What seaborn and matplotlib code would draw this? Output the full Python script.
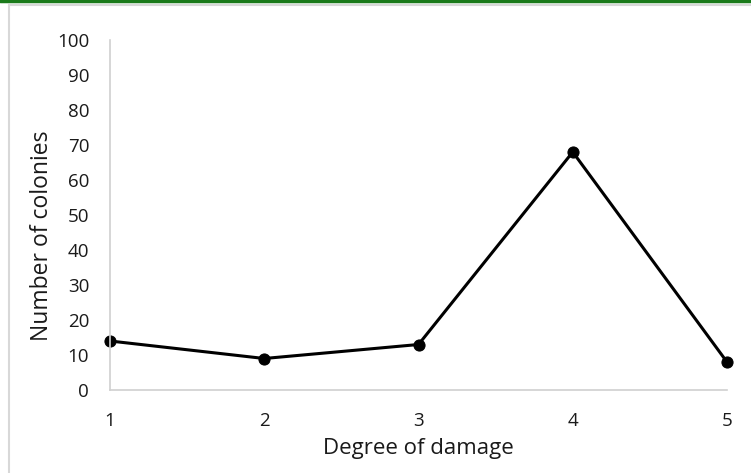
import matplotlib
matplotlib.use("Agg")
import matplotlib.pyplot as plt
from matplotlib.lines import Line2D
import seaborn as sns
import pandas as pd

# data
degree = [1, 2, 3, 4, 5]
colonies = [14, 9, 13, 68, 8]
y_ticks = list(range(0, 101, 10))

df = pd.DataFrame({"Degree of damage": degree, "Number of colonies": colonies})

sns.set_theme(style="white")
plt.rcParams['font.family'] = ['Open Sans', 'DejaVu Sans']

fig = plt.figure(figsize=(7.51, 4.73), dpi=100)
ax = fig.add_axes([110 / 751, 83 / 473, 617 / 751, 350 / 473])

sns.lineplot(data=df, x="Degree of damage", y="Number of colonies", ax=ax,
             color="black", linewidth=2.2, marker="o", markersize=8,
             markeredgecolor="black", clip_on=False)

ax.set_xlim(1, 5)
ax.set_ylim(0, 100)
ax.set_xticks(degree)
ax.set_yticks(y_ticks)
ax.tick_params(axis="both", length=0, labelsize=13.5, colors="#1a1a1a")
ax.tick_params(axis="x", pad=16)
ax.tick_params(axis="y", pad=15)
ax.set_xlabel("Degree of damage", fontsize=16, color="#1a1a1a")
ax.set_ylabel("Number of colonies", fontsize=16.5, color="#1a1a1a")
ax.xaxis.set_label_coords(0.5, -48 / 350)
ax.yaxis.set_label_coords(-56 / 617, 0.44)

for side in ["top", "right"]:
    ax.spines[side].set_visible(False)
for side in ["left", "bottom"]:
    ax.spines[side].set_color("#d0d0d0")
    ax.spines[side].set_linewidth(1.2)

# frame decorations of the screenshot
fig.add_artist(Line2D([0, 1], [1 - 1.5 / 473, 1 - 1.5 / 473], color="#1a7a1a", linewidth=2.5))
fig.add_artist(Line2D([8.5 / 751, 1], [1 - 5.5 / 473, 1 - 5.5 / 473], color="#d8d8d8", linewidth=1.5))
fig.add_artist(Line2D([8.5 / 751, 8.5 / 751], [0, 1 - 5.5 / 473], color="#d8d8d8", linewidth=1.5))

fig.savefig("out.png", dpi=100)
